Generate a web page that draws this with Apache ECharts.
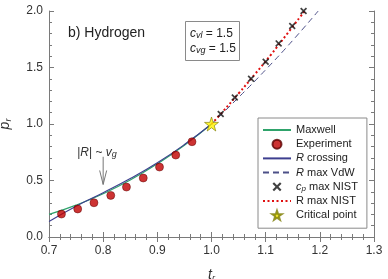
<!DOCTYPE html>
<html><head><meta charset="utf-8">
<script src="https://cdn.jsdelivr.net/npm/echarts@6/dist/echarts.min.js"></script>
<style>html,body{margin:0;padding:0;background:#fff}#c{width:388px;height:279px}</style>
</head><body><div id="c"></div>
<script>
// ---- data ----
var tMaxwell = [0.70, 0.75, 0.80, 0.85, 0.90, 0.95, 1.00];
var pMaxwell = [0.200, 0.282, 0.383, 0.504, 0.647, 0.812, 1.000];
var tExp = [0.723, 0.753, 0.783, 0.814, 0.843, 0.874, 0.904, 0.934, 0.964];
var pExp = [0.203, 0.248, 0.303, 0.368, 0.442, 0.522, 0.619, 0.725, 0.843];
var tCross = [0.70, 0.75, 0.80, 0.85, 0.90, 0.95, 1.00];
var pCross = [0.138, 0.272, 0.392, 0.517, 0.657, 0.818, 1.000];
var tVdw = [1.00, 1.05, 1.10, 1.15, 1.197];
var pVdw = [1.000, 1.235, 1.480, 1.740, 2.000];
var tCp = [1.017, 1.043, 1.073, 1.100, 1.124, 1.149, 1.170];
var pCp = [1.088, 1.235, 1.400, 1.551, 1.713, 1.867, 2.000];
var tNist = [1.00, 1.02, 1.05, 1.08, 1.11, 1.14, 1.172];
var pNist = [1.000, 1.105, 1.270, 1.440, 1.615, 1.800, 2.000];
var tCrit = [1.0];
var pCrit = [1.0];
var xTicks = [0.7, 0.8, 0.9, 1.0, 1.1, 1.2, 1.3];
var yTicks = [0.0, 0.5, 1.0, 1.5, 2.0];

function zip(a, b) { return a.map(function (v, i) { return [v, b[i]]; }); }

var FONT = 'Liberation Sans';
var STAR = 'path://M50,0 L61.8,35.1 L98.1,35.1 L68.8,56.7 L79.4,91 L50,70 L20.6,91 L31.2,56.7 L1.9,35.1 L38.2,35.1 Z';
var XMARK = 'path://M0,1.7 L1.7,0 L5,3.3 L8.3,0 L10,1.7 L6.7,5 L10,8.3 L8.3,10 L5,6.7 L1.7,10 L0,8.3 L3.3,5 Z';
var axisCol = '#7a7a7a';

function axisBase(extra) {
  var o = {
    type: 'value',
    axisLine: { show: true, lineStyle: { color: axisCol, width: 1 } },
    axisTick: { show: true, inside: true, length: 5, lineStyle: { color: axisCol } },
    minorTick: { show: true, splitNumber: 5, length: 3, lineStyle: { color: axisCol } },
    splitLine: { show: false },
    minorSplitLine: { show: false }
  };
  for (var k in extra) o[k] = extra[k];
  return o;
}

var chart = echarts.init(document.getElementById('c'), null, { renderer: 'canvas' });
var legendNames = {
  'Maxwell': 'Maxwell',
  'Experiment': 'Experiment',
  'R crossing': '{i|R} crossing',
  'R max VdW': '{i|R} max VdW',
  'cp max NIST': '{i|c}{sub|p} max NIST',
  'R max NIST': 'R max NIST',
  'Critical point': 'Critical point'
};
var noSym = { itemStyle: { opacity: 0 } };

var option = {
  animation: false,
  textStyle: { fontFamily: FONT },
  grid: { left: 49, right: 14, top: 11, bottom: 42, containLabel: false, outerBoundsMode: 'none' },
  xAxis: [
    axisBase({ min: 0.7, max: 1.3, interval: 0.1, position: 'bottom',
      axisLabel: { color: '#333', fontSize: 12, fontFamily: FONT, margin: 8,
        formatter: function (v) { return v.toFixed(1); } },
      name: '{i|t}{sub|r}', nameLocation: 'middle', nameGap: 30,
      nameTextStyle: { rich: {
        i: { fontStyle: 'italic', fontSize: 14, fontFamily: FONT, color: '#333', lineHeight: 16, verticalAlign: 'middle' },
        sub: { fontStyle: 'italic', fontSize: 9, fontFamily: FONT, color: '#333', lineHeight: 9, verticalAlign: 'bottom' } } } }),
    axisBase({ min: 0.7, max: 1.3, interval: 0.1, position: 'top', axisLabel: { show: false } })
  ],
  yAxis: [
    axisBase({ min: 0, max: 2, interval: 0.5, position: 'left',
      axisLabel: { color: '#333', fontSize: 12, fontFamily: FONT, margin: 6,
        formatter: function (v) { return v.toFixed(1); } },
      name: '{i|p}{sub|r}', nameLocation: 'middle', nameGap: 36, nameRotate: 90,
      nameTextStyle: { rich: {
        i: { fontStyle: 'italic', fontSize: 14, fontFamily: FONT, color: '#333', lineHeight: 16, verticalAlign: 'middle' },
        sub: { fontStyle: 'italic', fontSize: 9, fontFamily: FONT, color: '#333', lineHeight: 9, verticalAlign: 'bottom' } } } }),
    axisBase({ min: 0, max: 2, interval: 0.5, position: 'right', axisLabel: { show: false } })
  ],
  legend: {
    orient: 'vertical', left: 258, top: 118,
    borderColor: '#8a8a8a', borderWidth: 1, borderRadius: 0,
    padding: [6, 9, 7, 4], itemGap: 2.2, itemWidth: 28, itemHeight: 9,
    backgroundColor: '#fff',
    data: [
      Object.assign({ name: 'Maxwell' }, noSym),
      { name: 'Experiment' },
      Object.assign({ name: 'R crossing' }, noSym),
      Object.assign({ name: 'R max VdW' }, noSym),
      { name: 'cp max NIST' },
      Object.assign({ name: 'R max NIST' }, noSym),
      { name: 'Critical point' }
    ],
    formatter: function (n) { return legendNames[n]; },
    textStyle: { fontSize: 11, color: '#222', fontFamily: FONT, lineHeight: 12,
      rich: {
        i: { fontStyle: 'italic', fontSize: 11, fontFamily: FONT, color: '#222', lineHeight: 12, verticalAlign: 'middle' },
        sub: { fontStyle: 'italic', fontSize: 8, fontFamily: FONT, color: '#222', lineHeight: 8, verticalAlign: 'bottom' }
      } }
  },
  series: [
    { name: 'Maxwell', type: 'line', data: zip(tMaxwell, pMaxwell), smooth: true, symbol: 'none',
      lineStyle: { color: '#2fa36b', width: 1.2 }, itemStyle: { color: '#2fa36b' }, z: 2 },
    { name: 'R crossing', type: 'line', data: zip(tCross, pCross), smooth: true, symbol: 'none',
      lineStyle: { color: '#3d3f8f', width: 1.1 }, itemStyle: { color: '#3d3f8f' }, z: 2 },
    { name: 'R max VdW', type: 'line', data: zip(tVdw, pVdw), smooth: true, symbol: 'none',
      lineStyle: { color: '#4d5088', width: 1, type: [6, 4] }, itemStyle: { color: '#4d5088' }, z: 2 },
    { name: 'R max NIST', type: 'line', data: zip(tNist, pNist), smooth: true, symbol: 'none',
      lineStyle: { color: '#e01010', width: 2, type: [2, 2.5] }, itemStyle: { color: '#e01010' }, z: 3 },
    { name: 'Experiment', type: 'scatter', data: zip(tExp, pExp), symbol: 'circle', symbolSize: 8,
      itemStyle: { color: '#c00000', borderColor: '#5a0000', borderWidth: 0.6 }, z: 4 },
    { name: 'cp max NIST', type: 'scatter', data: zip(tCp, pCp), symbol: XMARK, symbolSize: 7, clip: false,
      itemStyle: { color: '#111' }, z: 5 },
    { name: 'Critical point', type: 'scatter', data: zip(tCrit, pCrit), symbol: STAR, symbolSize: 14, clip: false,
      itemStyle: { color: '#fff200', borderColor: '#7a7a00', borderWidth: 0.8 }, z: 6 }
  ],
  graphic: [
    { type: 'text', left: 68, top: 26, style: { text: 'b) Hydrogen', font: '14px "Liberation Sans"', fill: '#222' } },
    { type: 'rect', shape: { x: 185.5, y: 21.5, width: 54, height: 39 }, style: { fill: '#fff', stroke: '#8a8a8a', lineWidth: 1 } },
    { type: 'text', x: 190, y: 27, style: { text: '{i|c}{sub|vl} = 1.5', fill: '#222', font: '12px "Liberation Sans"',
      rich: { i: { fontStyle: 'italic', fontSize: 12, fontFamily: FONT, lineHeight: 13, verticalAlign: 'middle' },
              sub: { fontStyle: 'italic', fontSize: 9, fontFamily: FONT, lineHeight: 9, verticalAlign: 'bottom' } } } },
    { type: 'text', x: 190, y: 42, style: { text: '{i|c}{sub|vg} = 1.5', fill: '#222', font: '12px "Liberation Sans"',
      rich: { i: { fontStyle: 'italic', fontSize: 12, fontFamily: FONT, lineHeight: 13, verticalAlign: 'middle' },
              sub: { fontStyle: 'italic', fontSize: 9, fontFamily: FONT, lineHeight: 9, verticalAlign: 'bottom' } } } }
  ]
};
chart.setOption(option);

// annotation arrow in data coordinates
var a0 = chart.convertToPixel({ gridIndex: 0 }, [0.8, 0.71]);
var a1 = chart.convertToPixel({ gridIndex: 0 }, [0.8, 0.465]);
chart.setOption({ graphic: option.graphic.concat([
  { type: 'text', x: a0[0] - 26, y: a0[1] - 11, style: { text: '|{i|R}| ~ {i|v}{sub|g}', fill: '#333', font: '12px "Liberation Sans"',
      rich: { i: { fontStyle: 'italic', fontSize: 12, fontFamily: FONT, lineHeight: 13, verticalAlign: 'middle' },
              sub: { fontStyle: 'italic', fontSize: 9, fontFamily: FONT, lineHeight: 9, verticalAlign: 'bottom' } } } },
  { type: 'line', shape: { x1: a0[0], y1: a0[1], x2: a1[0], y2: a1[1] }, style: { stroke: '#777', lineWidth: 1 } },
  { type: 'polyline', shape: { points: [[a1[0] - 3.5, a1[1] - 14], [a1[0], a1[1]], [a1[0] + 3.5, a1[1] - 14]] },
    style: { stroke: '#777', lineWidth: 1, fill: null } }
]) });
</script></body></html>
